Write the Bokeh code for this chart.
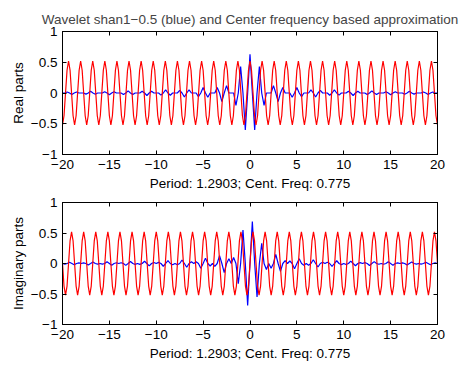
from bokeh.plotting import figure
from bokeh.layouts import column
from bokeh.models import FixedTicker, LinearAxis, Range1d
from bokeh.embed import file_html
from bokeh.resources import INLINE

title_text = "Wavelet shan1\u22120.5 (blue) and Center frequency based approximation"
xlabel_text = "Period: 1.2903; Cent. Freq: 0.775"
ylabel_top = "Real parts"
ylabel_bottom = "Imaginary parts"

x_ticks = [-20, -15, -10, -5, 0, 5, 10, 15, 20]
x_tick_labels = ["\u221220", "\u221215", "\u221210", "\u22125", "0", "5", "10", "15", "20"]
y_ticks = [-1, -0.5, 0, 0.5, 1]
y_tick_labels = ["\u22121", "\u22120.5", "0", "0.5", "1"]

# blue wavelet: sample grid (quarter units)
blue_x = [k / 4 for k in range(-80, 81)]

blue_real = [
    0, 0, 0.016, 0, -0.024, 0, 0.017, 0, 0, 0,
    -0.018, 0, 0.027, 0, -0.019, 0, 0, 0, 0.021, 0,
    -0.030, 0, 0.022, 0, 0, 0, -0.024, 0, 0.035, 0,
    -0.026, 0, 0, 0, 0.028, 0, -0.041, 0, 0.030, 0,
    0, 0, -0.034, 0, 0.050, 0, -0.037, 0, 0, 0,
    0.042, 0, -0.064, 0, 0.049, 0, 0, 0, -0.058, 0,
    0.09, 0, -0.07, 0, 0, 0, 0.09, 0, -0.14, 0,
    0.12, 0, 0, 0, -0.20, 0, 0.43, 0, -0.60, 0,
    0.63,
    0, -0.60, 0, 0.43, 0, -0.20, 0, 0, 0, 0.12,
    0, -0.14, 0, 0.09, 0, 0, 0, -0.07, 0, 0.09,
    0, -0.058, 0, 0, 0, 0.049, 0, -0.064, 0, 0.042,
    0, 0, 0, -0.037, 0, 0.050, 0, -0.034, 0, 0,
    0, 0.030, 0, -0.041, 0, 0.028, 0, 0, 0, -0.026,
    0, 0.035, 0, -0.024, 0, 0, 0, 0.022, 0, -0.030,
    0, 0.021, 0, 0, 0, -0.019, 0, 0.027, 0, -0.018,
    0, 0, 0, 0.017, 0, -0.024, 0, 0.016, 0, 0,
]

blue_imag = [
    0, -0.009, 0, 0.022, 0, -0.022, 0, 0.009, 0, 0.010,
    0, -0.024, 0, 0.025, 0, -0.011, 0, -0.011, 0, 0.027,
    0, -0.028, 0, 0.012, 0, 0.013, 0, -0.031, 0, 0.033,
    0, -0.014, 0, -0.015, 0, 0.037, 0, -0.039, 0, 0.017,
    0, 0.018, 0, -0.045, 0, 0.048, 0, -0.021, 0, -0.022,
    0, 0.057, 0, -0.062, 0, 0.028, 0, 0.030, 0, -0.079,
    0, 0.088, 0, -0.041, 0, -0.046, 0, 0.128, 0, -0.151,
    0, 0.077, 0, 0.098, 0, -0.33, 0, 0.55, 0, -0.69,
    0,
    0.69, 0, -0.55, 0, 0.33, 0, -0.098, 0, -0.077, 0,
    0.151, 0, -0.128, 0, 0.046, 0, 0.041, 0, -0.088, 0,
    0.079, 0, -0.030, 0, -0.028, 0, 0.062, 0, -0.057, 0,
    0.022, 0, 0.021, 0, -0.048, 0, 0.045, 0, -0.018, 0,
    -0.017, 0, 0.039, 0, -0.037, 0, 0.015, 0, 0.014, 0,
    -0.033, 0, 0.031, 0, -0.013, 0, -0.012, 0, 0.028, 0,
    -0.027, 0, 0.011, 0, 0.011, 0, -0.025, 0, 0.024, 0,
    -0.010, 0, -0.009, 0, 0.022, 0, -0.022, 0, 0.009, 0,
]

# red centre-frequency approximation: sample grid of one eighth of the period 1.2903
red_x = [-20 + k * 1.2903 / 8 for k in range(249)]

red_real = [
    -0.52, -0.37, 0, 0.37, 0.52, 0.37, 0, -0.37,
    -0.52, -0.37, 0, 0.37, 0.52, 0.37, 0, -0.37,
    -0.52, -0.37, 0, 0.37, 0.52, 0.37, 0, -0.37,
    -0.52, -0.37, 0, 0.37, 0.52, 0.37, 0, -0.37,
    -0.52, -0.37, 0, 0.37, 0.52, 0.37, 0, -0.37,
    -0.52, -0.37, 0, 0.37, 0.52, 0.37, 0, -0.37,
    -0.52, -0.37, 0, 0.37, 0.52, 0.37, 0, -0.37,
    -0.52, -0.37, 0, 0.37, 0.52, 0.37, 0, -0.37,
    -0.52, -0.37, 0, 0.37, 0.52, 0.37, 0, -0.37,
    -0.52, -0.37, 0, 0.37, 0.52, 0.37, 0, -0.37,
    -0.52, -0.37, 0, 0.37, 0.52, 0.37, 0, -0.37,
    -0.52, -0.37, 0, 0.37, 0.52, 0.37, 0, -0.37,
    -0.52, -0.37, 0, 0.37, 0.52, 0.37, 0, -0.37,
    -0.52, -0.37, 0, 0.37, 0.52, 0.37, 0, -0.37,
    -0.52, -0.37, 0, 0.37, 0.52, 0.37, 0, -0.37,
    -0.52, -0.37, 0, 0.37, 0.52, 0.37, 0, -0.37,
    -0.52, -0.37, 0, 0.37, 0.52, 0.37, 0, -0.37,
    -0.52, -0.37, 0, 0.37, 0.52, 0.37, 0, -0.37,
    -0.52, -0.37, 0, 0.37, 0.52, 0.37, 0, -0.37,
    -0.52, -0.37, 0, 0.37, 0.52, 0.37, 0, -0.37,
    -0.52, -0.37, 0, 0.37, 0.52, 0.37, 0, -0.37,
    -0.52, -0.37, 0, 0.37, 0.52, 0.37, 0, -0.37,
    -0.52, -0.37, 0, 0.37, 0.52, 0.37, 0, -0.37,
    -0.52, -0.37, 0, 0.37, 0.52, 0.37, 0, -0.37,
    -0.52, -0.37, 0, 0.37, 0.52, 0.37, 0, -0.37,
    -0.52, -0.37, 0, 0.37, 0.52, 0.37, 0, -0.37,
    -0.52, -0.37, 0, 0.37, 0.52, 0.37, 0, -0.37,
    -0.52, -0.37, 0, 0.37, 0.52, 0.37, 0, -0.37,
    -0.52, -0.37, 0, 0.37, 0.52, 0.37, 0, -0.37,
    -0.52, -0.37, 0, 0.37, 0.52, 0.37, 0, -0.37,
    -0.52, -0.37, 0, 0.37, 0.52, 0.37, 0, -0.37,
    -0.52,
]

red_imag = [
    0, -0.37, -0.52, -0.37, 0, 0.37, 0.52, 0.37,
    0, -0.37, -0.52, -0.37, 0, 0.37, 0.52, 0.37,
    0, -0.37, -0.52, -0.37, 0, 0.37, 0.52, 0.37,
    0, -0.37, -0.52, -0.37, 0, 0.37, 0.52, 0.37,
    0, -0.37, -0.52, -0.37, 0, 0.37, 0.52, 0.37,
    0, -0.37, -0.52, -0.37, 0, 0.37, 0.52, 0.37,
    0, -0.37, -0.52, -0.37, 0, 0.37, 0.52, 0.37,
    0, -0.37, -0.52, -0.37, 0, 0.37, 0.52, 0.37,
    0, -0.37, -0.52, -0.37, 0, 0.37, 0.52, 0.37,
    0, -0.37, -0.52, -0.37, 0, 0.37, 0.52, 0.37,
    0, -0.37, -0.52, -0.37, 0, 0.37, 0.52, 0.37,
    0, -0.37, -0.52, -0.37, 0, 0.37, 0.52, 0.37,
    0, -0.37, -0.52, -0.37, 0, 0.37, 0.52, 0.37,
    0, -0.37, -0.52, -0.37, 0, 0.37, 0.52, 0.37,
    0, -0.37, -0.52, -0.37, 0, 0.37, 0.52, 0.37,
    0, -0.37, -0.52, -0.37, 0, 0.37, 0.52, 0.37,
    0, -0.37, -0.52, -0.37, 0, 0.37, 0.52, 0.37,
    0, -0.37, -0.52, -0.37, 0, 0.37, 0.52, 0.37,
    0, -0.37, -0.52, -0.37, 0, 0.37, 0.52, 0.37,
    0, -0.37, -0.52, -0.37, 0, 0.37, 0.52, 0.37,
    0, -0.37, -0.52, -0.37, 0, 0.37, 0.52, 0.37,
    0, -0.37, -0.52, -0.37, 0, 0.37, 0.52, 0.37,
    0, -0.37, -0.52, -0.37, 0, 0.37, 0.52, 0.37,
    0, -0.37, -0.52, -0.37, 0, 0.37, 0.52, 0.37,
    0, -0.37, -0.52, -0.37, 0, 0.37, 0.52, 0.37,
    0, -0.37, -0.52, -0.37, 0, 0.37, 0.52, 0.37,
    0, -0.37, -0.52, -0.37, 0, 0.37, 0.52, 0.37,
    0, -0.37, -0.52, -0.37, 0, 0.37, 0.52, 0.37,
    0, -0.37, -0.52, -0.37, 0, 0.37, 0.52, 0.37,
    0, -0.37, -0.52, -0.37, 0, 0.37, 0.52, 0.37,
    0, -0.37, -0.52, -0.37, 0, 0.37, 0.52, 0.37,
    0,
]

assert len(blue_real) == len(blue_x) == len(blue_imag)
assert len(red_real) == len(red_x) == len(red_imag)

FONT = "Liberation Sans"
FS = "13.5px"


def style_axis(ax, ticks, labels, show_labels):
    ax.ticker = FixedTicker(ticks=ticks)
    ax.major_label_overrides = dict(zip(ticks, labels))
    ax.major_tick_in = 4
    ax.major_tick_out = 0
    ax.minor_tick_in = 0
    ax.minor_tick_out = 0
    ax.axis_line_color = "black"
    ax.major_tick_line_color = "black"
    ax.major_label_text_font = FONT
    if show_labels:
        ax.major_label_text_color = "black"
        ax.major_label_text_font_size = FS
        ax.major_label_standoff = 5
    else:
        ax.major_label_text_color = None
        ax.major_label_text_font_size = "1px"
        ax.major_label_standoff = 0
    ax.axis_label_text_font = FONT
    ax.axis_label_text_font_size = FS
    ax.axis_label_text_font_style = "normal"
    ax.axis_label_text_color = "black"


def make_panel(height, btop, bbottom, ylabel, title=None):
    p = figure(width=462, height=height, x_range=Range1d(-20, 20), y_range=Range1d(-1, 1),
               output_backend="svg", toolbar_location=None,
               min_border_left=62, min_border_right=25,
               min_border_top=btop, min_border_bottom=bbottom, title=title)
    p.grid.visible = False
    p.outline_line_color = "black"
    p.outline_line_alpha = 1
    p.outline_line_width = 1
    p.background_fill_color = "white"
    p.border_fill_color = "white"
    if title:
        p.title.text_font = FONT
        p.title.text_font_size = FS
        p.title.text_font_style = "normal"
        p.title.align = "center"
        p.title.standoff = 10
    xa = p.xaxis[0]
    style_axis(xa, x_ticks, x_tick_labels, True)
    xa.axis_label = xlabel_text
    xa.axis_label_standoff = 4
    ya = p.yaxis[0]
    style_axis(ya, y_ticks, y_tick_labels, True)
    ya.axis_label = ylabel
    ya.axis_label_standoff = 2
    top = LinearAxis()
    style_axis(top, x_ticks, x_tick_labels, False)
    p.add_layout(top, "above")
    right = LinearAxis()
    style_axis(right, y_ticks, y_tick_labels, False)
    p.add_layout(right, "right")
    return p


p1 = make_panel(193, 31, 38, ylabel_top, title_text)
p1.line(blue_x, blue_real, line_color="#0000ff", line_width=1.2)
p1.line(red_x, red_real, line_color="#ff0000", line_width=1.2)

p2 = make_panel(170, 9, 37, ylabel_bottom)
p2.line(blue_x, blue_imag, line_color="#0000ff", line_width=1.2)
p2.line(red_x, red_imag, line_color="#ff0000", line_width=1.2)

layout = column(p1, p2, spacing=0)
open("out.html", "w").write(file_html(layout, INLINE))
